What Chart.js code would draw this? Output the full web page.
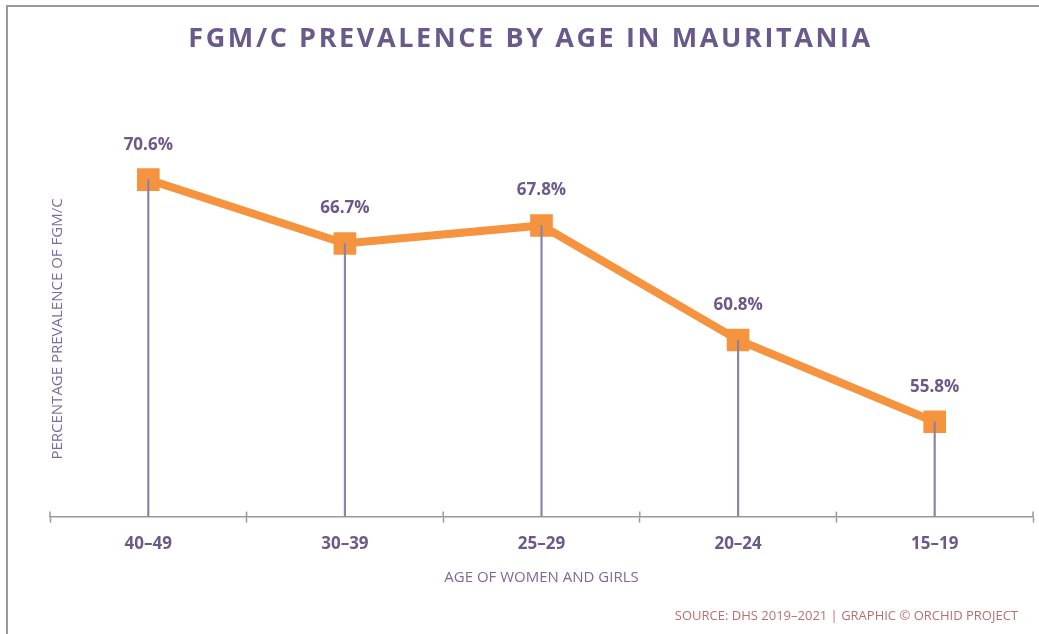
<!DOCTYPE html>
<html lang="en">
<head>
  <meta charset="UTF-8">
  <title>FGM/C Prevalence by Age in Mauritania</title>
  <script src="https://cdn.jsdelivr.net/npm/chart.js"></script>
  <style>
    body {
      margin: 0;
      background: #fff;
      font-family: "Open Sans", Arial, sans-serif;
    }
    #wrap {
      position: relative;
      width: 1039px;
      height: 634px;
      overflow: hidden;
    }
    /* thin frame on top and left, like the source picture */
    #frame {
      position: absolute;
      left: 6px;
      top: 5px;
      right: -10px;
      bottom: -10px;
      border-top: 2px solid #9a9a9a;
      border-left: 2px solid #9a9a9a;
      pointer-events: none;
    }
    h1 {
      position: absolute;
      top: 18px;
      left: 0;
      width: 1061px;
      margin: 0;
      text-align: center;
      font-size: 27px;
      font-weight: 700;
      letter-spacing: 2.6px;
      color: #6a5a8c;
    }
    #source {
      position: absolute;
      right: 21px;
      top: 606px;
      font-size: 13px;
      color: #b8706f;
    }
    canvas { position: absolute; left: 0; top: 0; }
  </style>
</head>
<body>
  <div id="wrap">
    <canvas id="fgmChart" width="1039" height="634"></canvas>
    <h1>FGM/C PREVALENCE BY AGE IN MAURITANIA</h1>
    <div id="source">SOURCE: DHS 2019–2021 | GRAPHIC © ORCHID PROJECT</div>
    <div id="frame"></div>
  </div>

  <script>
    // Data
    const ageGroups = ['40–49', '30–39', '25–29', '20–24', '15–19'];
    const prevalence = [70.6, 66.7, 67.8, 60.8, 55.8];

    const purple = '#6a5a8c';
    const orange = '#f6933e';

    // value labels above the markers + small ticks above the x axis
    const extras = {
      id: 'extras',
      afterDatasetsDraw(chart) {
        const ctx = chart.ctx;
        const meta = chart.getDatasetMeta(1);
        ctx.save();
        ctx.font = 'bold 17px "Open Sans"';
        ctx.fillStyle = purple;
        ctx.textAlign = 'center';
        ctx.textBaseline = 'middle';
        meta.data.forEach((pt, i) => {
          ctx.fillText(prevalence[i].toFixed(1) + '%', pt.x, pt.y - 35);
        });

        // y axis title sits inside the plot, drawn by hand
        ctx.font = '15px "Open Sans"';
        ctx.fillStyle = '#7a6b9c';
        ctx.translate(58, 329);
        ctx.rotate(-Math.PI / 2);
        ctx.fillText('PERCENTAGE PREVALENCE OF FGM/C', 0, 0);
        ctx.restore();

        const x = chart.scales.x;
        const half = (x.getPixelForValue(1) - x.getPixelForValue(0)) / 2;
        ctx.save();
        ctx.strokeStyle = '#9a9a9a';
        ctx.lineWidth = 1.5;
        for (let i = 0; i <= ageGroups.length; i++) {
          const px = x.getPixelForValue(0) - half + i * half * 2;
          ctx.beginPath();
          ctx.moveTo(px, chart.chartArea.bottom);
          ctx.lineTo(px, chart.chartArea.bottom - 5);
          ctx.stroke();
        }
        ctx.restore();
      }
    };

    const ctx = document.getElementById('fgmChart').getContext('2d');
    const fgmChart = new Chart(ctx, {
      type: 'line',
      data: {
        labels: ageGroups,
        datasets: [
          {
            // thin drop lines from each point to the axis
            type: 'bar',
            data: prevalence,
            backgroundColor: '#8a83a6',
            barThickness: 1.5,
            order: 0
          },
          {
            type: 'line',
            data: prevalence,
            borderColor: orange,
            borderWidth: 8,
            pointStyle: 'rect',
            pointRadius: 16,
            pointHoverRadius: 16,
            pointBackgroundColor: orange,
            pointBorderWidth: 0,
            order: 1
          }
        ]
      },
      options: {
        responsive: false,
        animation: false,
        layout: {
          autoPadding: false,
          padding: { left: 50, right: 6, top: 75, bottom: 47 }
        },
        plugins: {
          legend: { display: false },
          tooltip: { enabled: false }
        },
        scales: {
          y: {
            display: false,
            min: 50,
            max: 77
          },
          x: {
            offset: true,
            grid: {
              offset: true,
              drawOnChartArea: false,
              tickLength: 6,
              tickWidth: 1.5,
              color: '#9a9a9a'
            },
            border: { color: '#9a9a9a', width: 1.5 },
            ticks: {
              color: purple,
              padding: 11,
              font: { family: 'Open Sans', size: 17, weight: 'bold' }
            },
            title: {
              display: true,
              text: 'AGE OF WOMEN AND GIRLS',
              color: '#7a6b9c',
              padding: { top: 4, bottom: 0 },
              font: { family: 'Open Sans', size: 15 }
            }
          }
        }
      },
      plugins: [extras]
    });
  </script>
</body>
</html>
